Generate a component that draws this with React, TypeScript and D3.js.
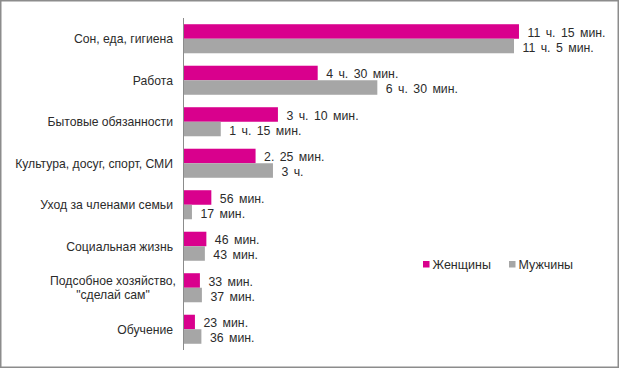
import React from "react";
import * as d3 from "d3";

const categories: string[][] = [
  ["Сон, еда, гигиена"],
  ["Работа"],
  ["Бытовые обязанности"],
  ["Культура, досуг, спорт, СМИ"],
  ["Уход за членами семьи"],
  ["Социальная жизнь"],
  ["Подсобное хозяйство,", "\"сделай сам\""],
  ["Обучение "],
];
const women: number[] = [675, 270, 190, 145, 56, 46, 33, 23];
const men: number[] = [665, 390, 75, 180, 17, 43, 37, 36];
const womenLabels: string[] = ["11 ч. 15 мин.", "4 ч. 30 мин.", "3 ч. 10 мин.", "2. 25 мин.", "56 мин.", "46 мин.", "33 мин.", "23 мин."];
const menLabels: string[] = ["11 ч. 5 мин.", "6 ч. 30 мин.", "1 ч. 15 мин.", "3 ч.", "17 мин.", "43 мин.", "37 мин.", "36 мин."];
const seriesNames: string[] = ["Женщины", "Мужчины"];

const W = 620;
const H = 369;
const PINK = "#d9008d";
const GRAY = "#a6a6a6";
const TEXT = "#2b2b2b";
const FONT = "'Liberation Sans', Arial, sans-serif";

export default function App() {
  const x0 = 183.5;
  const x = d3.scaleLinear().domain([0, 720]).range([x0, x0 + 720 * 0.497]);
  const idx = categories.map((_, i) => String(i));
  const y = d3.scaleBand().domain(idx).range([18, 350]).paddingInner(0.3).paddingOuter(0.15);
  const bh = y.bandwidth() / 2;

  return (
    <svg width={W} height={H} style={{ position: "absolute", left: 0, top: 0 }} fontFamily={FONT}>
      <rect x={0} y={0} width={W} height={H} fill="#fff" />
      <rect x={0.75} y={0.75} width={617.5} height={366.5} fill="none" stroke="#8c8c8c" strokeWidth={1.5} />
      {categories.map((lines, i) => {
        const yt = y(String(i))!;
        const cy = yt + y.bandwidth() / 2;
        return (
          <g key={i}>
            <rect x={x(0)} y={yt} width={x(women[i]) - x(0)} height={bh} fill={PINK} />
            <rect x={x(0)} y={yt + bh} width={x(men[i]) - x(0)} height={bh} fill={GRAY} />
            <text x={x(women[i]) + 8.5} y={yt + bh / 2 + 1} dy="0.35em" fontSize={12.3} wordSpacing={2} fill={TEXT}>{womenLabels[i]}</text>
            <text x={x(men[i]) + 8.5} y={yt + bh + bh / 2 + 1.5} dy="0.35em" fontSize={12.3} wordSpacing={2} fill={TEXT}>{menLabels[i]}</text>
            {lines.length === 1 ? (
              <text x={173} y={cy} dy="0.35em" textAnchor="end" fontSize={12.2} fill={TEXT}>{lines[0]}</text>
            ) : (
              lines.map((l, j) => (
                <text key={j} x={113} y={cy + (j - (lines.length - 1) / 2) * 13.5} dy="0.35em" textAnchor="middle" fontSize={12.2} fill={TEXT}>{l}</text>
              ))
            )}
          </g>
        );
      })}
      <line x1={x(0)} x2={x(0)} y1={18} y2={350} stroke="#8c8c8c" strokeWidth={1} />
      <g fontSize={12.5} fill={TEXT}>
        <rect x={423} y={261} width={6.5} height={6.5} fill={PINK} />
        <text x={432.5} y={264.5} dy="0.35em">{seriesNames[0]}</text>
        <rect x={509} y={261} width={6.5} height={6.5} fill={GRAY} />
        <text x={518.5} y={264.5} dy="0.35em">{seriesNames[1]}</text>
      </g>
    </svg>
  );
}
